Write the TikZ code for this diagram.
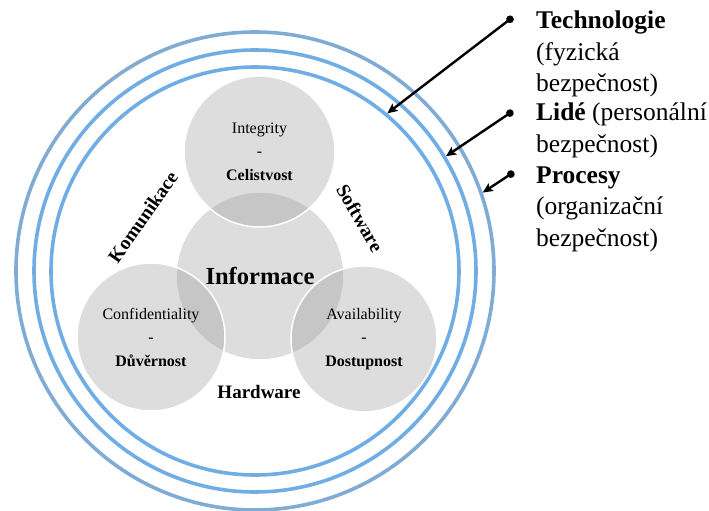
\documentclass[tikz,border=0pt]{standalone}
\usepackage{fontspec}
\setmainfont{Liberation Serif}
\usetikzlibrary{arrows.meta}
\definecolor{ringblue}{RGB}{112,173,228}
\definecolor{ringgray}{RGB}{128,172,212}
\definecolor{petalgray}{RGB}{150,150,150}

\begin{document}
\begin{tikzpicture}[x=1pt,y=1pt]
  \tikzset{ring/.style={circle, draw=ringblue, line width=3.6pt, inner sep=0pt}};
  \tikzset{petal/.style={circle, fill=petalgray, fill opacity=0.32, text opacity=1, draw=white, line width=1.5pt, inner sep=0pt, align=center, font=\fontsize{16}{23.5}\selectfont}};
  \tikzset{label/.style={font=\bfseries\fontsize{19.5}{22}\selectfont}};
  \tikzset{myedge/.style={{Circle[length=7.5pt]}-{Stealth[length=10pt,width=9pt,inset=2pt]}, line width=2.4pt}};
  \tikzset{sidetext/.style={anchor=north west, align=left, inner sep=0pt, font=\fontsize{25.5}{31.5}\selectfont}};

  \useasboundingbox (-255,-240) rectangle (454,271);

  % rings
  \node[ring, minimum size=408pt] (inner) at (0,0) {};
  \node[ring, minimum size=442pt] (middle) at (0,0) {};
  \node[ring, draw=ringgray, minimum size=478pt] (outer) at (0,0) {};

  % info and the three circles
  \node[petal, minimum size=168pt, font=\bfseries\fontsize{24.5}{26}\selectfont] (info) at (5,-5) {Informace};
  \node[petal, minimum size=151pt] (integ) at (4.5,119.5) {Integrity\\-\\\textbf{Celistvost}};
  \node[petal, minimum size=148pt] (confid) at (-104,-66) {Confidentiality\\-\\\textbf{Důvěrnost}};
  \node[petal, minimum size=146pt] (avail) at (109,-68) {Availability\\-\\\textbf{Dostupnost}};

  \node[label, rotate=55] (komu) at (-112,54) {Komunikace};
  \node[label, rotate=-60] (soft) at (105,53) {Software};
  \node[label, font=\bfseries\fontsize{19}{22}\selectfont] (hard) at (4,-121) {Hardware};

  % legend
  \node[sidetext] (tech) at (281,260) {\textbf{Technologie}\\(fyzická\\bezpečnost)};
  \node[sidetext] (lide) at (281,168) {\textbf{Lidé} (personální\\bezpečnost)};
  \node[sidetext] (proc) at (281,104.5) {\textbf{Procesy}\\(organizační\\bezpečnost)};

  \coordinate (techdot) at (258,254);
  \coordinate (lidedot) at (258,160);
  \coordinate (procdot) at (259,99);

  \draw [myedge] (techdot) -- (inner.50);
  \draw [myedge] (lidedot) -- (middle.31);
  \draw [myedge] (procdot) -- (outer.19);
\end{tikzpicture}
\end{document}
